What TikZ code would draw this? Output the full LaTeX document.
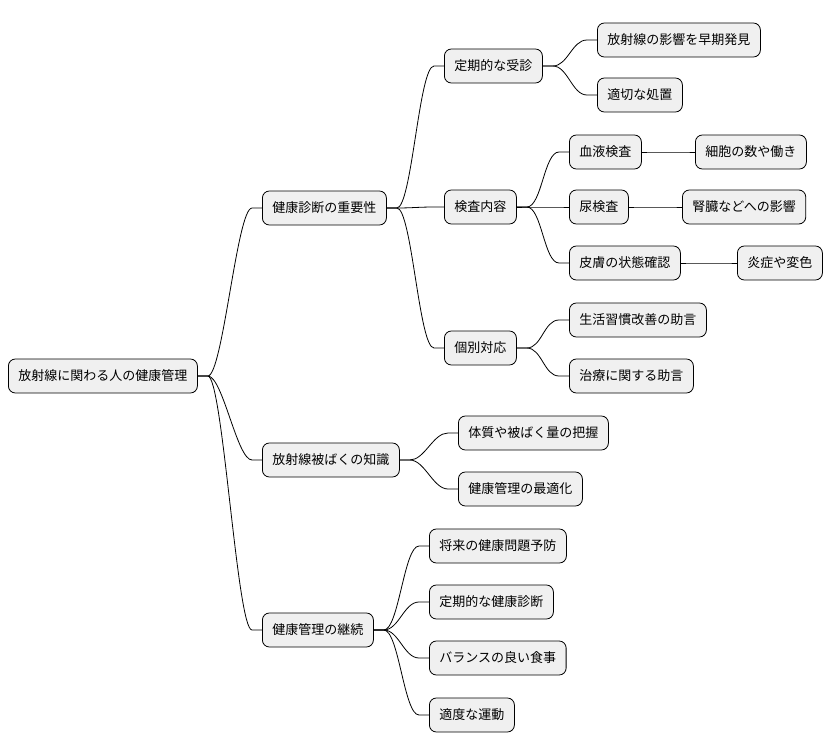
\documentclass[tikz,border=0pt]{standalone}
\usepackage{fontspec}
\setmainfont{Noto Sans CJK JP}
\usetikzlibrary{positioning}

\begin{document}
\begin{tikzpicture}[
    x=1pt, y=-1pt,
    topic/.style={rectangle, draw, rounded corners=7pt, fill=black!6, line width=0.8pt,
        minimum height=34pt, inner xsep=10pt, anchor=west, font=\fontsize{13}{15}\selectfont},
    branch/.style={line width=0.8pt}
]
    \useasboundingbox (0,0) rectangle (838,752);

    % root
    \node[topic] (root) at (8,376) {放射線に関わる人の健康管理};

    % first level
    \node[topic] (exam) at (262,208) {健康診断の重要性};
    \node[topic] (know) at (262,460) {放射線被ばくの知識};
    \node[topic] (keep) at (262,630) {健康管理の継続};

    % health check
    \node[topic] (regular) at (444,66) {定期的な受診};
    \node[topic] (content) at (444,207) {検査内容};
    \node[topic] (indiv) at (444,348) {個別対応};

    \node[topic] (early) at (597,40) {放射線の影響を早期発見};
    \node[topic] (treat) at (597,95) {適切な処置};
    \node[topic] (blood) at (569,152) {血液検査};
    \node[topic] (cell) at (695,152) {細胞の数や働き};
    \node[topic] (urine) at (569,207) {尿検査};
    \node[topic] (kidney) at (682,207) {腎臓などへの影響};
    \node[topic] (skin) at (569,263) {皮膚の状態確認};
    \node[topic] (color) at (737,263) {炎症や変色};
    \node[topic] (life) at (569,320) {生活習慣改善の助言};
    \node[topic] (advice) at (569,376) {治療に関する助言};

    % knowledge
    \node[topic] (dose) at (458,433) {体質や被ばく量の把握};
    \node[topic] (optim) at (458,489) {健康管理の最適化};

    % continuation
    \node[topic] (prevent) at (429,546) {将来の健康問題予防};
    \node[topic] (periodic) at (429,602) {定期的な健康診断};
    \node[topic] (meal) at (429,658) {バランスの良い食事};
    \node[topic] (sport) at (429,715) {適度な運動};

    % connectors
    \foreach \a/\b in {root/exam, root/know, root/keep,
        exam/regular, exam/content, exam/indiv,
        regular/early, regular/treat,
        content/blood, content/urine, content/skin,
        blood/cell, urine/kidney, skin/color,
        indiv/life, indiv/advice,
        know/dose, know/optim,
        keep/prevent, keep/periodic, keep/meal, keep/sport}
        \draw[branch] (\a.east) -- ++(10,0) .. controls +(15,0) and +(-15,0) .. ([xshift=-10pt]\b.west) -- (\b.west);
\end{tikzpicture}
\end{document}
